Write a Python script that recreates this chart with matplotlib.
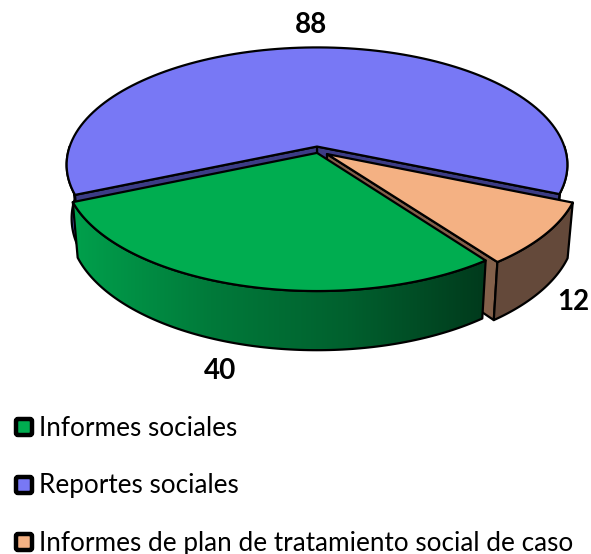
import numpy as np
import matplotlib.pyplot as plt
from matplotlib.colors import LinearSegmentedColormap
from matplotlib.patches import FancyBboxPatch, Polygon

labels = ['Informes sociales', 'Reportes sociales', 'Informes de plan de tratamiento social de caso']
values = [40, 88, 12]
value_text = ['40', '88', '12']

top_colors = ['#00ad50', '#7878f5', '#f4b183']
side_colors = ['#007a38', '#5b5bc4', '#64493a']
cut_colors = ['#006a30', '#3c3c85', '#83604a']
# offset of each slice in disc coordinates
offsets = [(0.0, -0.025), (0.0, 0.03), (0.04, -0.035)]
label_pos = [(220, 371), (311, 25), (573, 302)]
legend_y = [428, 486, 543]

# projection of the tilted disc onto pixels
cx, cy = 317, 150
d, a, c = 248.5, 115.6, 0.156


def project(u, v):
    w = 1 + c * v
    return cx + d * u / w, cy - a * v / w


def project_bottom(u, v):
    x, y = project(u, v)
    return cx + (x - cx) * 0.98, y + 53 - 6 * v


def arc(t1, t2, off, func):
    t = np.radians(np.linspace(t1, t2, 120))
    x, y = func(np.cos(t) + off[0], np.sin(t) + off[1])
    return np.column_stack([x, y])


# slices run clockwise from the first angle
start = 306.2
spans = np.array(values) / sum(values) * 360
ends = start - np.cumsum(spans)
starts = ends + spans

fig = plt.figure(figsize=(5.91, 5.54), dpi=100)
ax = fig.add_axes([0, 0, 1, 1])
lw = 1.6


def draw_poly(pts, color, z):
    p = Polygon(pts, closed=True, facecolor=color, edgecolor='black', linewidth=lw,
                joinstyle='round', zorder=z)
    ax.add_patch(p)
    return p


def draw_face(t, off, color, z):
    tr = np.radians(t)
    uo, vo = off
    u, v = np.cos(tr) + uo, np.sin(tr) + vo
    pts = [project(uo, vo), project(u, v), project_bottom(u, v), project_bottom(uo, vo)]
    draw_poly(pts, color, z)


def draw_side(t1, t2, off, color, z):
    pts = np.vstack([arc(t1, t2, off, project), arc(t2, t1, off, project_bottom)])
    return draw_poly(pts, color, z)


def draw_top(t1, t2, off, color, z):
    pts = np.vstack([[project(*off)], arc(t1, t2, off, project)])
    draw_poly(pts, color, z)


# blue slice at the back
g, b, p = 0, 1, 2
draw_side(180, 205, offsets[b], side_colors[b], 1)
draw_side(335, 360, offsets[b], side_colors[b], 1)
draw_face(ends[b], offsets[b], cut_colors[b], 2)
draw_face(starts[b], offsets[b], cut_colors[b], 2)
draw_top(ends[b], starts[b], offsets[b], top_colors[b], 3)

# peach slice
draw_face(ends[p] + 360, offsets[p], cut_colors[p], 4)
draw_side(ends[p] + 360, starts[p] + 360, offsets[p], side_colors[p], 5)
draw_top(ends[p] + 360, starts[p] + 360, offsets[p], top_colors[p], 6)

# green slice with shaded side
side = draw_side(ends[g], starts[g], offsets[g], 'none', 8)
cmap = LinearSegmentedColormap.from_list('side', ['#00a04c', '#007a3a', '#00602e', '#003a1c'])
box = side.get_path().get_extents()
im = ax.imshow(np.linspace(0, 1, 256).reshape(1, -1), cmap=cmap, aspect='auto',
               extent=(box.x0, box.x1, box.y1, box.y0), zorder=7)
im.set_clip_path(side.get_path(), ax.transData)
draw_top(ends[g], starts[g], offsets[g], top_colors[g], 9)

ax.set_xlim(0, 591)
ax.set_ylim(554, 0)
ax.axis('off')

for txt, pos in zip(value_text, label_pos):
    ax.text(pos[0], pos[1], txt, family='Lato', fontsize=20, fontweight='bold',
            ha='center', va='center', color='black', zorder=10)

for lab, col, y in zip(labels, top_colors, legend_y):
    ax.add_patch(FancyBboxPatch((16, y - 9), 16, 16, boxstyle='round,pad=0,rounding_size=2',
                                facecolor=col, edgecolor='black', linewidth=3.2, zorder=10))
    ax.text(39, y, lab, family='Lato', fontsize=18.8, ha='left', va='center',
            color='black', zorder=10)

fig.savefig('out.png', dpi=100)
